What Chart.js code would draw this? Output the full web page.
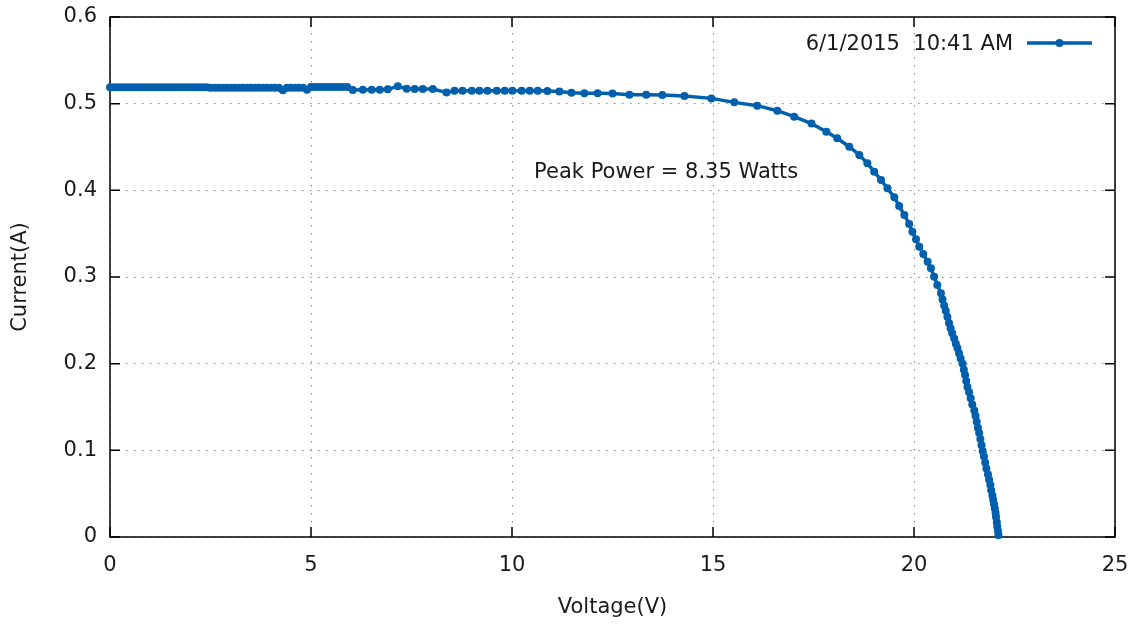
<!DOCTYPE html>
<html>
<head>
<meta charset="utf-8">
<title>IV Curve</title>
<script src="https://cdn.jsdelivr.net/npm/chart.js@4.4.1/dist/chart.umd.min.js"></script>
<style>
  html, body { margin: 0; padding: 0; background: #fff; }
</style>
</head>
<body>
<canvas id="iv-chart" width="1139" height="628"></canvas>
<script>
// Sweep: voltage (V) and current (A)
const voltage = [
  0.00, 0.10, 0.20, 0.30, 0.40, 0.50, 0.60, 0.70, 0.80, 0.90,
  1.00, 1.10, 1.20, 1.30, 1.40, 1.50, 1.60, 1.70, 1.80, 1.90,
  2.00, 2.10, 2.20, 2.30, 2.40, 2.50, 2.60, 2.70, 2.80, 2.90,
  3.00, 3.10, 3.20, 3.30, 3.40, 3.50, 3.60, 3.70, 3.80, 3.90,
  4.00, 4.10, 4.20, 4.30, 4.40, 4.50, 4.60, 4.70, 4.80, 4.90,
  5.00, 5.10, 5.20, 5.30, 5.40, 5.50, 5.60, 5.70, 5.80, 5.90,
  6.04, 6.29, 6.51, 6.71, 6.91, 7.16, 7.38, 7.58, 7.78, 8.03,
  8.37, 8.57, 8.77, 9.00, 9.19, 9.39, 9.62, 9.82, 10.01, 10.24,
  10.44, 10.64, 10.88, 11.18, 11.48, 11.80, 12.13, 12.50, 12.92, 13.34,
  13.74, 14.29, 14.96, 15.53, 16.10, 16.60, 17.02, 17.45, 17.82, 18.09,
  18.39, 18.64, 18.84, 19.01, 19.18, 19.34, 19.51, 19.63, 19.76, 19.88,
  19.96, 20.05, 20.13, 20.23, 20.34, 20.42, 20.50, 20.58, 20.67, 20.71,
  20.75, 20.79, 20.83, 20.87, 20.91, 20.95, 21.00, 21.04, 21.08, 21.12,
  21.16, 21.21, 21.24, 21.27, 21.30, 21.33, 21.37, 21.41, 21.45, 21.50,
  21.53, 21.56, 21.59, 21.62, 21.65, 21.68, 21.71, 21.74, 21.77, 21.80,
  21.84, 21.87, 21.90, 21.92, 21.95, 21.97, 21.99, 22.01, 22.03, 22.04,
  22.06, 22.07, 22.09, 22.10
];
const current = [
  0.519, 0.519, 0.519, 0.519, 0.519, 0.519, 0.519, 0.519, 0.519, 0.519,
  0.519, 0.519, 0.519, 0.519, 0.519, 0.519, 0.519, 0.519, 0.519, 0.519,
  0.519, 0.519, 0.519, 0.519, 0.519, 0.5185, 0.5185, 0.5185, 0.5185, 0.5185,
  0.5185, 0.5185, 0.5185, 0.5185, 0.5185, 0.5185, 0.5185, 0.5185, 0.5185, 0.5185,
  0.5185, 0.5185, 0.5185, 0.5155, 0.5185, 0.5185, 0.5185, 0.5185, 0.5185, 0.516,
  0.5193, 0.5193, 0.5193, 0.5193, 0.5193, 0.5193, 0.5193, 0.5193, 0.5193, 0.5193,
  0.5157, 0.516, 0.516, 0.5162, 0.5165, 0.520, 0.5172, 0.517, 0.5168, 0.5168,
  0.513, 0.5148, 0.5148, 0.5148, 0.515, 0.515, 0.515, 0.515, 0.515, 0.515,
  0.515, 0.515, 0.5145, 0.514, 0.5127, 0.512, 0.512, 0.5118, 0.5104, 0.5104,
  0.510, 0.5088, 0.5061, 0.5015, 0.4977, 0.4919, 0.485, 0.477, 0.4676, 0.460,
  0.4503, 0.4408, 0.4312, 0.4215, 0.4119, 0.4023, 0.392, 0.382, 0.3715, 0.3611,
  0.3523, 0.3435, 0.335, 0.3265, 0.3176, 0.310, 0.3003, 0.2908, 0.2812, 0.274,
  0.267, 0.261, 0.254, 0.247, 0.241, 0.235, 0.229, 0.223, 0.218, 0.212,
  0.206, 0.200, 0.193, 0.187, 0.180, 0.173, 0.167, 0.160, 0.153, 0.146,
  0.140, 0.133, 0.126, 0.120, 0.113, 0.106, 0.099, 0.093, 0.086, 0.079,
  0.072, 0.066, 0.060, 0.054, 0.048, 0.043, 0.038, 0.033, 0.028, 0.023,
  0.017, 0.012, 0.007, 0.002
];

const xTicks = [0, 5, 10, 15, 20, 25];
const yTicks = [0, 0.1, 0.2, 0.3, 0.4, 0.5, 0.6];
const yTickLabels = ["0", "0.1", "0.2", "0.3", "0.4", "0.5", "0.6"];

const seriesLabel = "6/1/2015  10:41 AM";
const peakNote = "Peak Power = 8.35 Watts";
const peakNoteAt = [10.55, 0.42]; // voltage, current

const lineColor = "#0060ad";
const textColor = "#1a1a1a";
const fontFamily = "'DejaVu Sans', Verdana, sans-serif";
const fontSize = 21;
const tickLen = 10;

// frame, inward ticks, note and key (gnuplot look)
const gnuplotBits = {
  id: "gnuplotBits",
  beforeDatasetsDraw(chart) {
    const { ctx, chartArea: a, scales } = chart;
    ctx.save();
    ctx.strokeStyle = "#000";
    ctx.lineWidth = 1.5;
    ctx.beginPath();
    for (const v of xTicks) {
      const px = scales.x.getPixelForValue(v);
      ctx.moveTo(px, a.bottom);
      ctx.lineTo(px, a.bottom - tickLen);
      ctx.moveTo(px, a.top);
      ctx.lineTo(px, a.top + tickLen);
    }
    for (const v of yTicks) {
      const py = scales.y.getPixelForValue(v);
      ctx.moveTo(a.left, py);
      ctx.lineTo(a.left + tickLen, py);
      ctx.moveTo(a.right, py);
      ctx.lineTo(a.right - tickLen, py);
    }
    ctx.stroke();
    ctx.strokeRect(a.left, a.top, a.right - a.left, a.bottom - a.top);
    ctx.restore();
  },
  afterDatasetsDraw(chart) {
    const { ctx, scales } = chart;
    const ds = chart.data.datasets[0];
    ctx.save();
    ctx.font = `${fontSize}px ${fontFamily}`;
    ctx.fillStyle = textColor;
    ctx.textBaseline = "middle";

    ctx.textAlign = "left";
    ctx.fillText(
      peakNote,
      scales.x.getPixelForValue(peakNoteAt[0]),
      scales.y.getPixelForValue(peakNoteAt[1])
    );

    // key, top right inside the plot
    const keyY = 44;
    const sampleLeft = 1027;
    const sampleRight = 1092;
    ctx.textAlign = "right";
    ctx.fillText(ds.label, sampleLeft - 14, keyY + 1);
    ctx.strokeStyle = ds.borderColor;
    ctx.lineWidth = ds.borderWidth;
    ctx.beginPath();
    ctx.moveTo(sampleLeft, keyY - 1);
    ctx.lineTo(sampleRight, keyY - 1);
    ctx.stroke();
    ctx.fillStyle = ds.pointBackgroundColor;
    ctx.beginPath();
    ctx.arc((sampleLeft + sampleRight) / 2, keyY - 1, ds.pointRadius, 0, Math.PI * 2);
    ctx.fill();
    ctx.restore();
  },
};

const points = voltage.map((v, i) => ({ x: v, y: current[i] }));

const config = {
  type: "line",
  data: {
    datasets: [
      {
        label: seriesLabel,
        data: points,
        borderColor: lineColor,
        backgroundColor: lineColor,
        pointBackgroundColor: lineColor,
        pointBorderColor: lineColor,
        borderWidth: 3.5,
        pointRadius: 4,
        pointBorderWidth: 0,
        tension: 0,
        clip: false,
      },
    ],
  },
  options: {
    responsive: false,
    animation: false,
    devicePixelRatio: 1,
    layout: { padding: { top: 17, right: 24, left: 0, bottom: 0 } },
    plugins: {
      legend: { display: false },
      tooltip: { enabled: false },
    },
    scales: {
      x: {
        type: "linear",
        min: 0,
        max: 25,
        afterFit: (scale) => {
          scale.height = 91;
          scale.paddingLeft = 0;
          scale.paddingRight = 0;
        },
        afterBuildTicks: (scale) => { scale.ticks = xTicks.map((v) => ({ value: v })); },
        grid: { color: "#8c8c8c", lineWidth: 1, drawTicks: false },
        border: { display: false, dash: [1.5, 6.5] },
        ticks: {
          padding: 16,
          color: textColor,
          font: { family: fontFamily, size: fontSize },
          callback: (v) => String(v),
        },
        title: {
          display: true,
          text: "Voltage(V)",
          color: textColor,
          font: { family: fontFamily, size: fontSize },
          padding: { top: 0, bottom: 8 },
        },
      },
      y: {
        type: "linear",
        min: 0,
        max: 0.6,
        afterFit: (scale) => {
          scale.width = 110;
          scale.paddingTop = 0;
          scale.paddingBottom = 0;
        },
        afterBuildTicks: (scale) => { scale.ticks = yTicks.map((v) => ({ value: v })); },
        grid: { color: "#8c8c8c", lineWidth: 1, drawTicks: false },
        border: { display: false, dash: [1.5, 6.5] },
        ticks: {
          padding: 13,
          color: textColor,
          font: { family: fontFamily, size: fontSize },
          callback: (v, i) => yTickLabels[i],
        },
        title: {
          display: true,
          text: "Current(A)",
          color: textColor,
          font: { family: fontFamily, size: fontSize },
          padding: { top: 8, bottom: 0 },
        },
      },
    },
  },
  plugins: [gnuplotBits],
};

const ivChart = new Chart(document.querySelector("#iv-chart"), config);
</script>
</body>
</html>
